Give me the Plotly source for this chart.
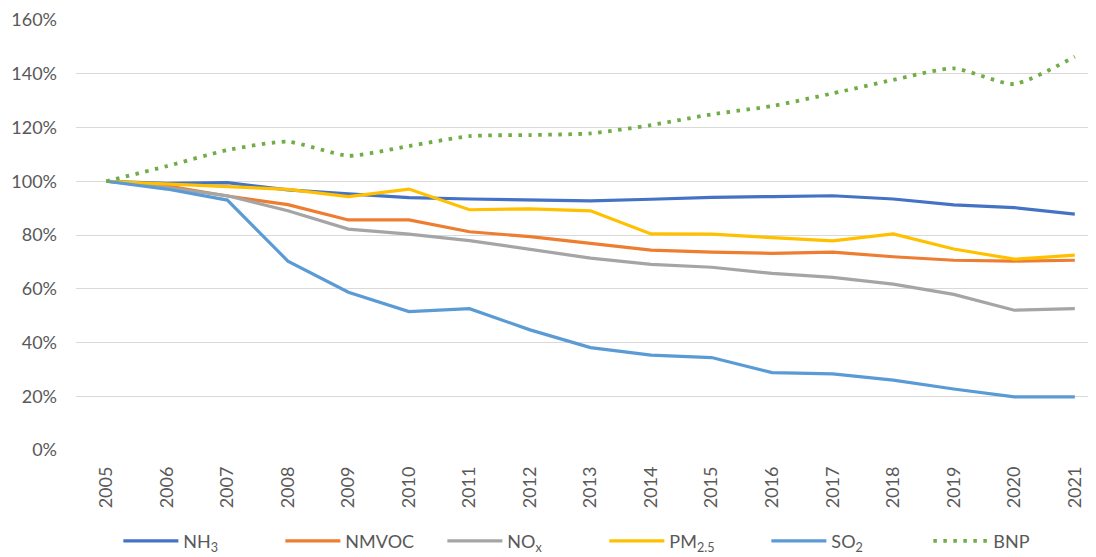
import plotly.graph_objects as go

years = list(range(2005, 2022))

nh3   = [100, 99.2, 99.5, 96.8, 95.3, 93.9, 93.4, 92.9, 92.7, 93.3, 94.0, 94.3, 94.6, 93.4, 91.2, 90.2, 87.8]
nmvoc = [100, 98.3, 94.5, 91.3, 85.6, 85.6, 81.2, 79.4, 76.9, 74.4, 73.6, 73.2, 73.6, 71.9, 70.6, 70.3, 70.6]
nox   = [100, 97.6, 94.6, 89.0, 82.2, 80.3, 77.9, 74.6, 71.4, 69.1, 68.0, 65.7, 64.2, 61.7, 57.9, 52.0, 52.6]
pm25  = [100, 98.9, 98.0, 97.0, 94.3, 97.1, 89.4, 89.7, 89.0, 80.4, 80.3, 79.0, 77.8, 80.4, 74.8, 71.0, 72.5]
so2   = [100, 97.1, 93.0, 70.3, 58.7, 51.5, 52.6, 44.7, 38.1, 35.3, 34.4, 28.8, 28.3, 26.0, 22.7, 19.8, 19.8]
bnp   = [100, 105.6, 111.6, 114.7, 109.5, 113.1, 116.8, 117.2, 117.8, 120.9, 124.9, 128.0, 132.7, 137.7, 142.0, 136.2, 146.4]

series = [
    ("NH<sub>3</sub>", nh3, "#4472C4", "solid", "linear"),
    ("NMVOC", nmvoc, "#ED7D31", "solid", "linear"),
    ("NO<sub>x</sub>", nox, "#A5A5A5", "solid", "linear"),
    ("PM<sub>2.5</sub>", pm25, "#FFC000", "solid", "linear"),
    ("SO<sub>2</sub>", so2, "#5B9BD5", "solid", "linear"),
    ("BNP", bnp, "#70AD47", "3.5px,6.5px", "spline"),
]

fig = go.Figure()
for name, vals, color, dash, shape in series:
    fig.add_trace(go.Scatter(
        x=years, y=[v / 100 for v in vals], name=name, mode="lines",
        line=dict(color=color, width=3.2 if dash == "solid" else 3.8, dash=dash, shape=shape, smoothing=0.6),
    ))

font_family = "Lato, Open Sans, sans-serif"
fig.update_layout(
    width=1088, height=549,
    margin=dict(l=68, r=0, t=12, b=107, autoexpand=False),
    paper_bgcolor="white", plot_bgcolor="white",
    font=dict(family=font_family, size=17, color="#595959"),
    showlegend=True,
    legend=dict(orientation="h", x=0.518, xanchor="center", y=-0.212, yanchor="middle",
                font=dict(size=18, color="#595959"), entrywidth=92, entrywidthmode="pixels",
                itemwidth=55, tracegroupgap=0),
)
fig.update_xaxes(
    range=[2004.5, 2021.35], tickvals=years, ticktext=[str(y) for y in years],
    tickangle=-90, showgrid=False, zeroline=False, showline=False, ticks="",
    ticklabelstandoff=12, tickfont=dict(size=18, color="#595959"), automargin=False,
)
fig.update_yaxes(
    range=[0, 1.6], dtick=0.2, tick0=0, tickformat=".0%",
    showgrid=True, gridcolor="#D9D9D9", gridwidth=1.2, zeroline=False, showline=False,
    ticks="", ticklabelstandoff=18, tickfont=dict(size=18, color="#595959"), automargin=False,
)

fig.write_html("out.html")
